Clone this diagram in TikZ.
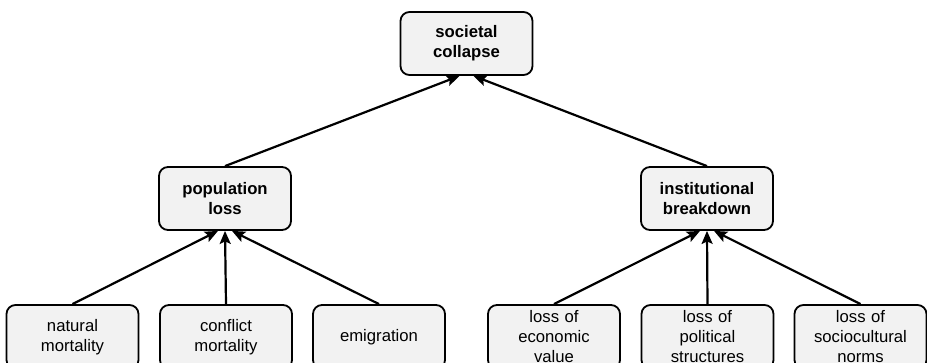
\documentclass[tikz,border=0pt]{standalone}
\usepackage{fontspec}
\setmainfont{Liberation Sans}
\usetikzlibrary{arrows.meta}
\definecolor{boxfill}{HTML}{F2F2F2}
\tikzset{
  box/.style={draw=black, line width=1.8pt, fill=boxfill, rounded corners=9pt,
    minimum width=132pt, minimum height=63pt, text width=128pt, align=center,
    inner sep=0pt, font=\fontsize{16.7}{20}\selectfont},
  headbox/.style={box, font=\fontsize{16.7}{20}\selectfont\bfseries},
  link/.style={line width=2.2pt, -{Stealth[length=13pt,width=11pt,inset=2.5pt]}}
}
\begin{document}
\begin{tikzpicture}[x=1pt,y=-1pt]
\clip (0,0) rectangle (927,363);
\fill[white] (0,0) rectangle (927,363);

% top level
\node[headbox] (top) at (466.5,43.5) {societal\\collapse};

% middle level
\node[headbox] (pop) at (225,198.5) {population\\loss};
\node[headbox] (inst) at (707,198.5) {institutional\\breakdown};

% bottom level
\node[box, minimum height=64pt] (nat) at (72.5,337) {natural\\mortality};
\node[box, minimum height=64pt] (con) at (226,337) {conflict\\mortality};
\node[box, minimum height=64pt] (emi) at (379,337) {emigration};
\node[box, minimum height=64pt] (eco) at (554,337) {loss of\\economic\\value};
\node[box, minimum height=64pt] (pol) at (707.5,337) {loss of\\political\\structures};
\node[box, minimum height=64pt] (soc) at (860.5,337) {loss of\\sociocultural\\norms};

% connectors
\draw[link] (pop.north) -- ([xshift=-7pt]top.south);
\draw[link] (inst.north) -- ([xshift=7pt]top.south);

\draw[link] (nat.north) -- ([xshift=-7pt]pop.south);
\draw[link] (con.north) -- (pop.south);
\draw[link] (emi.north) -- ([xshift=7pt]pop.south);

\draw[link] (eco.north) -- ([xshift=-7pt]inst.south);
\draw[link] (pol.north) -- (inst.south);
\draw[link] (soc.north) -- ([xshift=7pt]inst.south);
\end{tikzpicture}
\end{document}
